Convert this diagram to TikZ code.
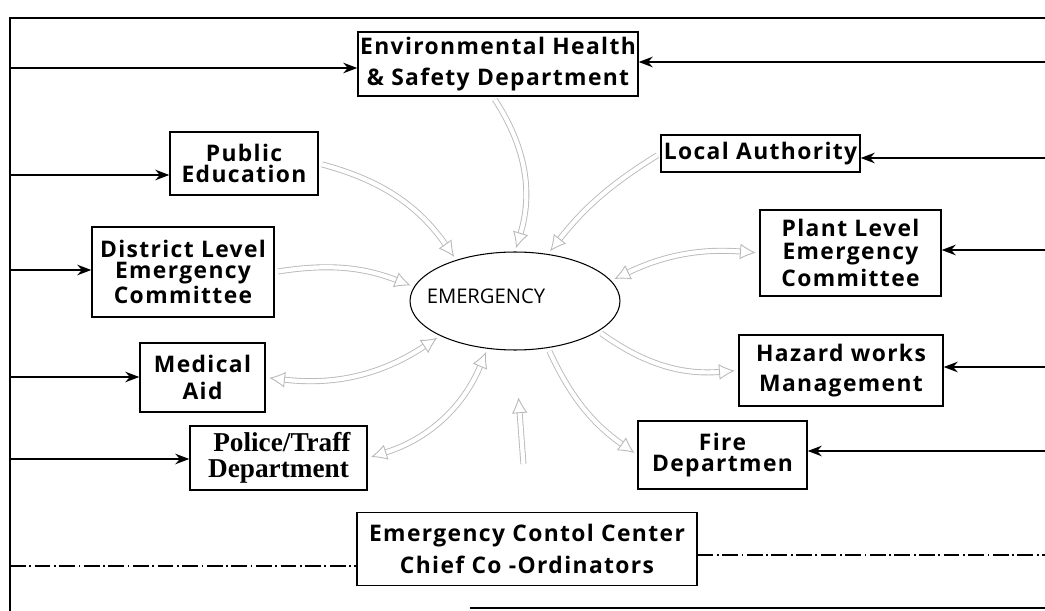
\documentclass[tikz,border=0pt]{standalone}
\usepackage{fontspec}
\setmainfont{Open Sans}
\newfontfamily\boxfont[LetterSpace=6]{Open Sans}
\newfontfamily\timesbox{Liberation Serif}
\usetikzlibrary{arrows.meta,shapes.geometric}
\tikzset{
  >={Stealth[length=8pt,width=6pt]},
  box/.style={draw, line width=0.8pt, align=center, inner sep=0pt,
    font=\boxfont\bfseries\fontsize{13}{15}\selectfont},
  tight/.style={font=\boxfont\bfseries\fontsize{13}{12}\selectfont},
  bus/.style={line width=0.9pt},
  feed/.style={bus, ->},
  link/.style={line width=0.6pt, dash pattern=on 9pt off 2pt on 1pt off 2pt},
  flow/.style={draw=gray!55, double=white, double distance=2.4pt, line width=0.5pt,
    -{Latex[open,length=9pt,width=9pt]}, shorten >=2pt, shorten <=2pt},
  flowb/.style={flow, {Latex[open,length=9pt,width=9pt]}-{Latex[open,length=9pt,width=9pt]}},
}

\begin{document}
\begin{tikzpicture}[x=0.02cm, y=-0.02cm]
    \useasboundingbox (0,0) rectangle (1045,611);
    \fill[white] (0,0) rectangle (1045,611);

    % boxes
    \node[box, minimum width=5.6cm, minimum height=1.28cm]  (ehs)  at (498,64)    {Environmental Health\\[3pt]\& Safety Department};
    \node[box, tight, minimum width=2.96cm, minimum height=1.26cm] (pub) at (244,163.5) {Public\\Education};
    \node[box, tight, minimum width=3.64cm, minimum height=1.8cm]  (dist) at (183,272) {District Level\\Emergency\\Committee};
    \node[box, minimum width=2.5cm, minimum height=1.38cm]  (med)  at (202.5,377.5) {Medical\\Aid};
    \node[box, minimum width=3.54cm, minimum height=1.28cm,
          font=\timesbox\bfseries\fontsize{15.5}{15}\selectfont] (pol) at (278.5,458) {\ Police/Traff\\Department};
    \node[box, minimum width=6.8cm, minimum height=1.46cm]  (ecc)  at (527,549)   {Emergency Contol Center\\[3pt]Chief Co -Ordinators};
    \node[box, minimum width=3.98cm, minimum height=0.74cm] (loc)  at (760.5,153.5) {Local Authority};
    \node[box, tight, minimum width=3.62cm, minimum height=1.72cm] (pl) at (850.5,253) {Plant Level\\[1pt]Emergency\\[1pt]Committee};
    \node[box, minimum width=4.08cm, minimum height=1.42cm] (haz)  at (841,370.5) {Hazard works\\[2pt]Management};
    \node[box, tight, minimum width=3.38cm, minimum height=1.36cm] (fire) at (722.5,455) {Fire\\Departmen};
    \node[ellipse, draw, line width=0.6pt, minimum width=4.2cm, minimum height=1.96cm,
          label={[xshift=-0.58cm, yshift=0.1cm, font=\fontsize{11.5}{13}\selectfont]center:EMERGENCY}] (em) at (515,301) {};

    % frame
    \coordinate (tl) at (10,18);
    \coordinate (tr) at (1045,18);
    \coordinate (bl) at (10,611);
    \draw[bus] (tr) -- (tl) -- (bl);
    \draw[bus] (470,608) -- (1045,608);

    % feeds from the left and the right
    \foreach \n/\y in {ehs/68, pub/175, dist/270, med/377, pol/459}
      \draw[feed] (10,\y) -- (\n.west |- 0,\y);
    \foreach \n/\y in {ehs/62, loc/158, pl/250, haz/367, fire/451}
      \draw[feed] (1045,\y) -- (\n.east |- 0,\y);
    \draw[link] (10,566) -- (ecc.west |- 0,566);
    \draw[link] (ecc.east |- 0,555) -- (1045,555);

    % flows round the emergency
    \draw[flow]  ([xshift=-0.1cm]ehs.south) to[bend left=25] (em.north);
    \draw[flow]  (pub.east) to[bend left=20] (em.145);
    \draw[flow]  (dist.east) to[bend left=15] (em.172);
    \draw[flowb] (med.east) to[bend right=20] (em.205);
    \draw[flowb] (pol.east) to[bend right=25] (em.240);
    \draw[flow]  (loc.west) to[bend right=10] (em.55);
    \draw[flowb] (pl.west) to[bend right=15] (em.12);
    \draw[flow]  (em.-20) to[bend right=20] (haz.west);
    \draw[flow]  (em.-55) to[bend right=15] (fire.west);
    \draw[flow, shorten <=0.96cm, shorten >=0.94cm] (ecc.north) -- (em.south);
\end{tikzpicture}
\end{document}
